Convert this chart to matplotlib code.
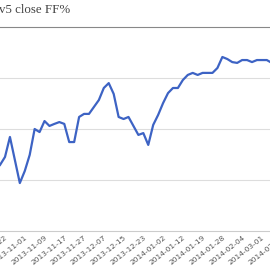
import matplotlib
matplotlib.use("Agg")
import matplotlib.pyplot as plt

# FF% values, one per sample (the first one sits just left of the crop)
ff_pct = [32.4, 36.3, 46.1, 34.8, 23.5, 29.4, 37.3, 50.0, 48.5, 53.9,
          51.5, 52.5, 53.4, 52.5, 43.6, 43.6, 55.9, 57.4, 57.4, 60.8,
          64.2, 70.1, 72.5, 67.2, 55.9, 54.9, 55.9, 51.5, 47.1, 48.0,
          42.2, 52.0, 56.9, 62.7, 67.6, 70.1, 70.1, 74.0, 76.5, 77.5,
          76.5, 77.5, 77.5, 77.5, 79.9, 85.3, 84.3, 82.8, 82.4, 83.8,
          83.8, 82.8, 83.8, 83.8, 83.8, 82.4]

# every 4th sample carries a date label
date_labels = ["2013-10-22", "2013-11-01", "2013-11-09", "2013-11-17",
               "2013-11-27", "2013-12-07", "2013-12-15", "2013-12-23",
               "2014-01-02", "2014-01-12", "2014-01-19", "2014-01-28",
               "2014-02-04", "2014-03-01", "2014-03-09"]
label_step = 4

title = "v5 close FF%"

x = list(range(-1, len(ff_pct) - 1))

# the chart is a crop of a wider one: axes run past both figure edges
px_per_pt = 4.94
left_px, right_px = -10, 290

fig = plt.figure(figsize=(2.7, 2.7), dpi=100)
ax = fig.add_axes([left_px / 270, 39 / 270, (right_px - left_px) / 270, 204 / 270])

ax.plot(x, ff_pct, color="#3d63c4", lw=1.6, solid_joinstyle="round")

ax.set_yticks([25, 50, 75])
ax.yaxis.grid(True, color="#dddddd", lw=0.8)
ax.tick_params(axis="y", left=False, labelleft=False)

ticks = [i * label_step for i in range(len(date_labels))]
ax.set_xticks(ticks)
ax.set_xticklabels(date_labels, rotation=38, ha="right", va="top",
                   rotation_mode="anchor", fontsize=5.4, color="#555555")
ax.tick_params(axis="x", length=0, pad=2.5)

# limits after the ticks, otherwise set_xticks widens the view
ax.set_ylim(0, 100)
ax.set_xlim((left_px - 5) / px_per_pt, (right_px - 5) / px_per_pt)

for side in ["left", "right"]:
    ax.spines[side].set_visible(False)
ax.spines["bottom"].set_color("#cccccc")
ax.spines["bottom"].set_linewidth(0.8)
ax.spines["top"].set_color("#888888")
ax.spines["top"].set_linewidth(0.8)
ax.set_axisbelow(True)

fig.text(-0.004, 1 - 13 / 270, title, fontsize=9.3, color="#444444",
         family="Liberation Serif", ha="left", va="baseline")

fig.savefig("out.png", dpi=100)
